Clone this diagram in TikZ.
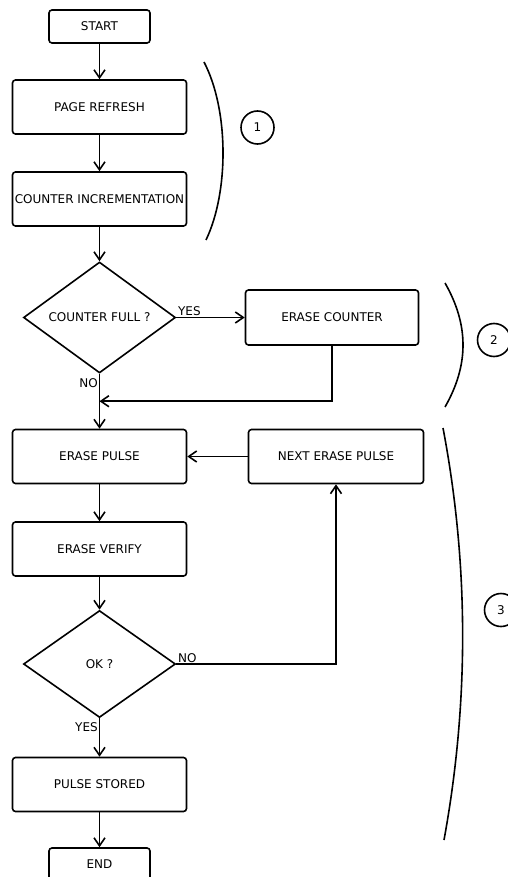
\documentclass[tikz,border=0pt]{standalone}
\usepackage{fontspec}
\setmainfont{DejaVu Sans}
\usepackage{tikz}
\usetikzlibrary{shapes,arrows.meta,positioning,calc}
\tikzstyle{block} = [rectangle, draw, line width=1.6pt, rounded corners=3pt, inner sep=0pt, text centered, minimum width=174pt, minimum height=54pt]
\tikzstyle{terminal} = [block, minimum width=101pt, minimum height=33pt]
\tikzstyle{decision} = [diamond, draw, line width=1.6pt, inner sep=0pt, minimum width=152pt, minimum height=107pt]
\tikzstyle{tag} = [circle, draw, line width=1.6pt, inner sep=0pt, minimum size=33pt]
\tikzstyle{bracket} = [draw, line width=1.6pt]
\tikzstyle{line} = [draw, line width=1.6pt, -{Straight Barb[length=8pt,width=11pt]}]
\tikzstyle{answer} = [inner sep=1pt]

\begin{document}
\begin{tikzpicture}[x=1pt, y=-1pt, every node/.style={font=\fontsize{12}{14}\selectfont}]
	\useasboundingbox (0,0) rectangle (508,877);
	\clip (0,0) rectangle (508,877);
	% First column
	\node [terminal] (start) at (99.5,26.5) {START};
	\node [block, below of=start, node distance=80.5pt] (refresh) {PAGE REFRESH};
	\node [block, below of=refresh, node distance=92pt] (increment) {COUNTER INCREMENTATION};
	\node [decision, below of=increment, node distance=118.5pt] (full) {COUNTER FULL ?};
	\node [block, below of=full, node distance=139pt] (pulse) {ERASE PULSE};
	\node [block, below of=pulse, node distance=92.5pt] (verify) {ERASE VERIFY};
	\node [decision, below of=verify, node distance=115pt] (ok) {OK ?};
	\node [block, below of=ok, node distance=120.5pt] (stored) {PULSE STORED};
	\node [terminal, below of=stored, node distance=80pt] (end) {END};
	
	% Second column
	\node [block, right of=full, node distance=232.5pt, minimum width=173pt, minimum height=55pt] (erase-counter) {ERASE COUNTER};
	\node [block, right of=pulse, node distance=236.5pt, minimum width=175pt] (next-pulse) {NEXT ERASE PULSE};
	\coordinate (join) at ($(full.south)!0.5!(pulse.north)$);
	
	% Phases
	\node [tag] (phase1) at (257.5,127.5) {1};
	\node [tag] (phase2) at (494,340) {2};
	\node [tag] (phase3) at (501,610) {3};
	\draw [bracket] (204,62) .. controls (229,110) and (229,192) .. (206,240);
	\draw [bracket] (445,283) .. controls (469,325) and (469,365) .. (445,407);
	\draw [bracket] (443,428) .. controls (469,565) and (469,703) .. (444,840);
	
	% Paths
	\path [line] (start) -- (refresh);
	\path [line] (refresh) -- (increment);
	\path [line] (increment) -- (full);
	\path [line] (full) -- node[answer, above right, pos=0]{YES} (erase-counter);
	\path [line] (full) -- node[answer, left, pos=0.17]{NO} (pulse);
	\path [line] (erase-counter) |- (join);
	\path [line] (next-pulse) -- (pulse);
	\path [line] (pulse) -- (verify);
	\path [line] (verify) -- (ok);
	\path [line] (ok) -| node[answer, above right, pos=0]{NO} (next-pulse);
	\path [line] (ok) -- node[answer, left, pos=0.23]{YES} (stored);
	\path [line] (stored) -- (end);
\end{tikzpicture}
\end{document}
